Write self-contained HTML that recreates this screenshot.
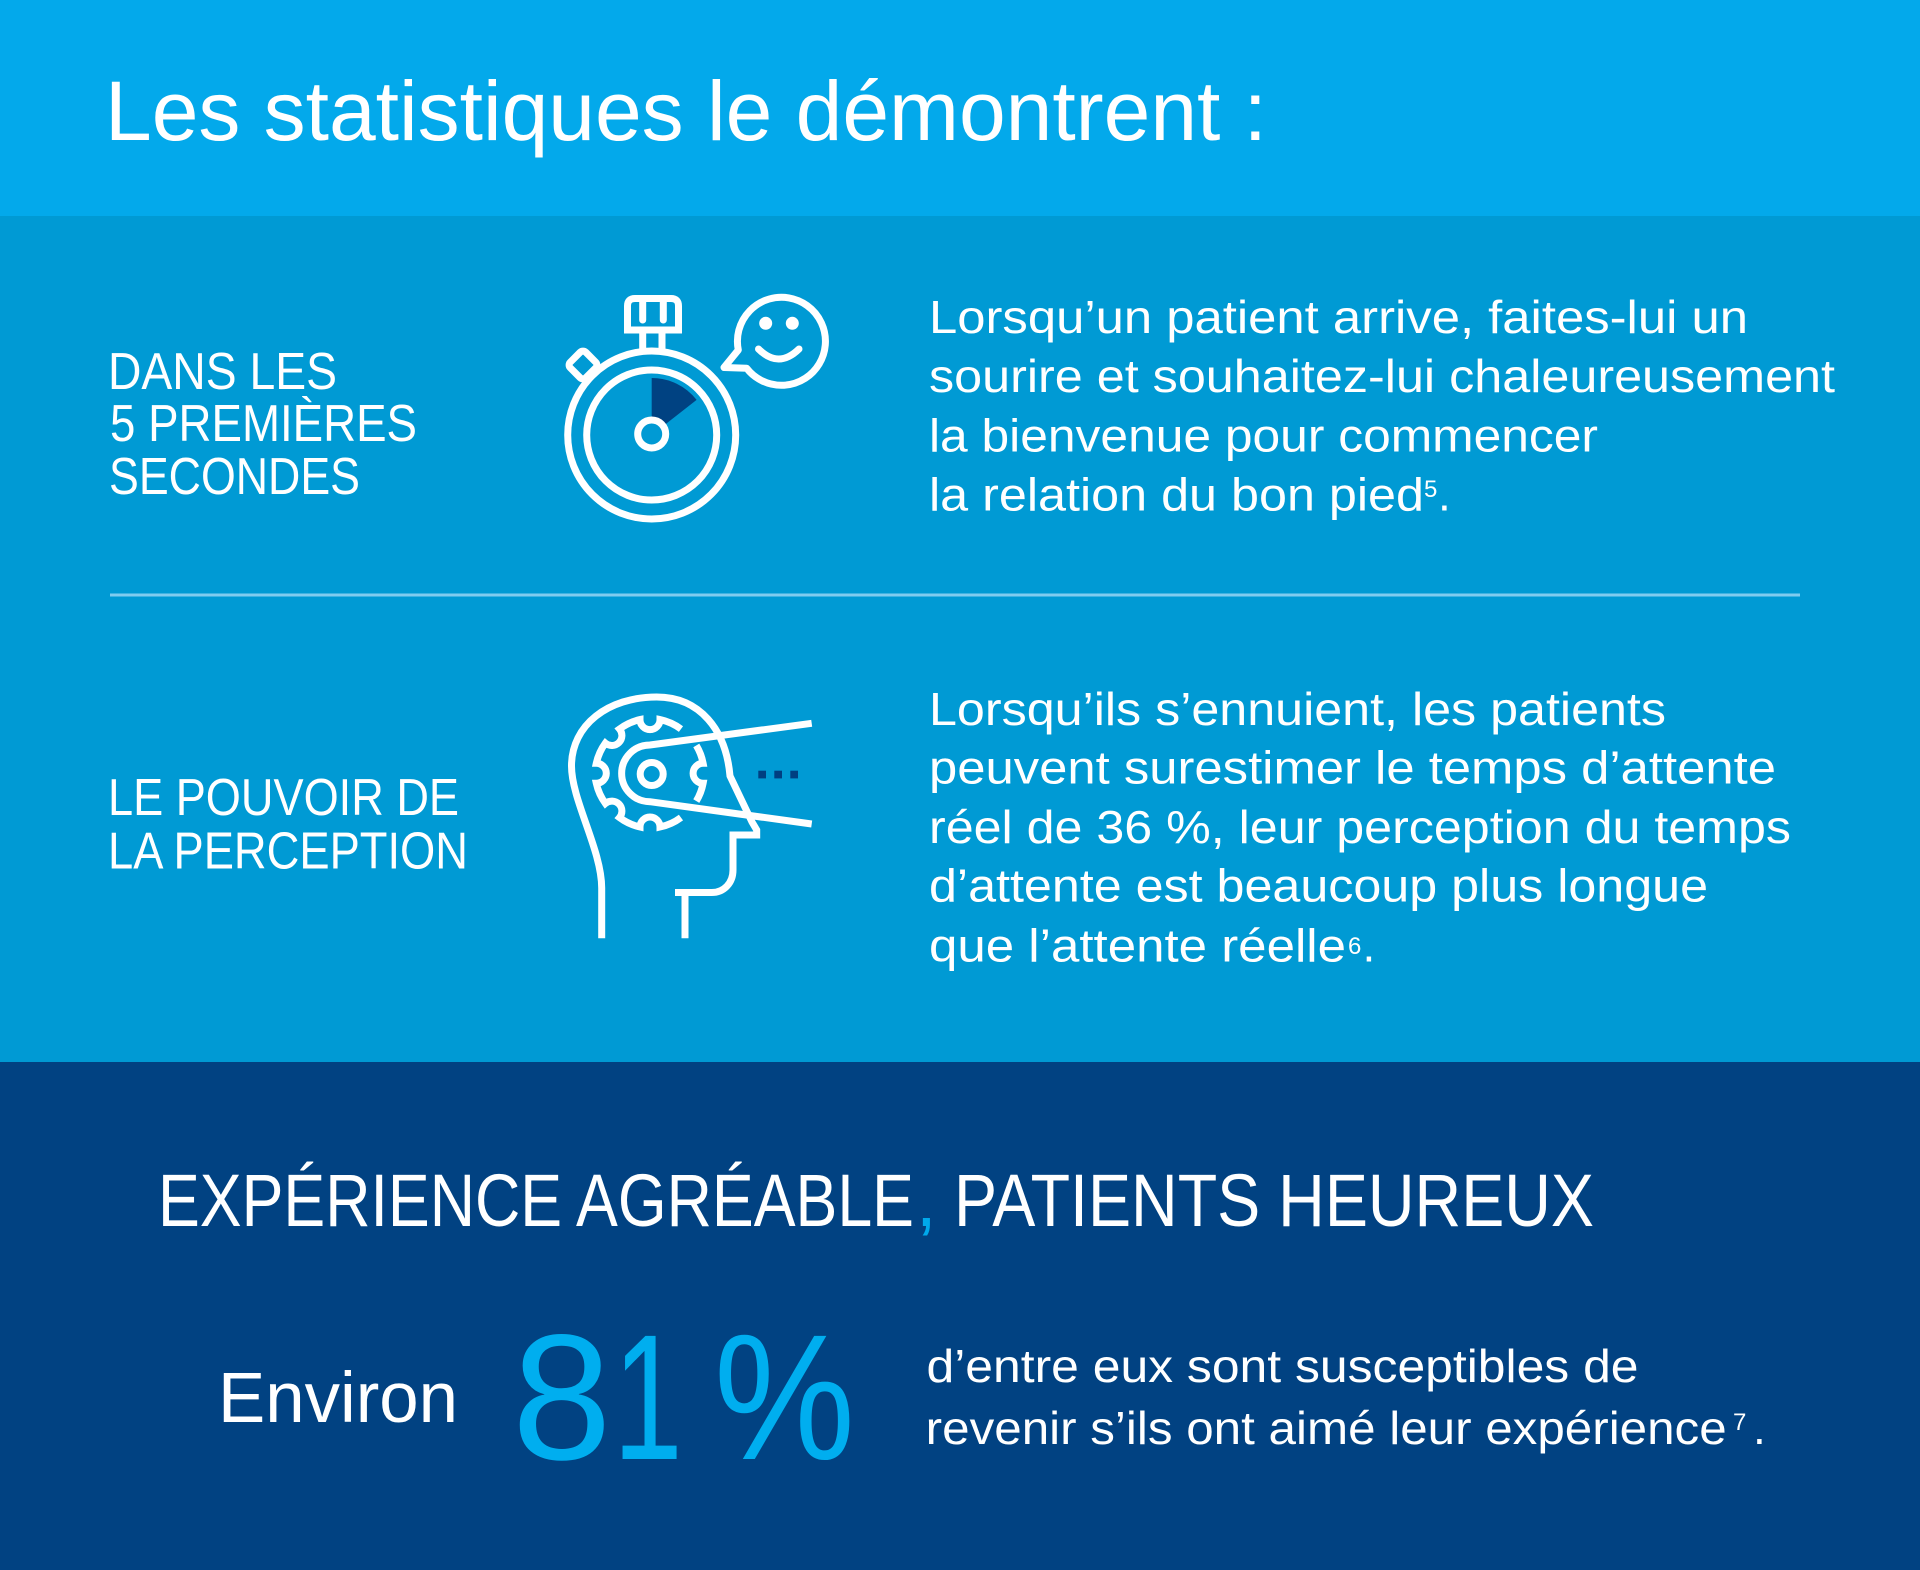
<!DOCTYPE html>
<html>
<head>
<meta charset="utf-8">
<style>
html,body{margin:0;padding:0;background:#014282;}
svg{display:block;}
text{font-family:"Liberation Sans", sans-serif;fill:#ffffff;}
</style>
</head>
<body>
<svg width="1920" height="1570" viewBox="0 0 1920 1570" xmlns="http://www.w3.org/2000/svg">
  <!-- bands -->
  <rect x="0" y="0" width="1920" height="216" fill="#03A9EB"/>
  <rect x="0" y="216" width="1920" height="846" fill="#009AD4"/>
  <rect x="0" y="1062" width="1920" height="508" fill="#014282"/>

  <!-- title -->
  <text x="105" y="140" font-size="84" textLength="1162" lengthAdjust="spacingAndGlyphs">Les statistiques le démontrent :</text>

  <!-- section 1 left -->
  <text x="108" y="389" font-size="52" textLength="229" lengthAdjust="spacingAndGlyphs">DANS LES</text>
  <text x="110" y="441" font-size="52" textLength="307" lengthAdjust="spacingAndGlyphs">5 PREMIÈRES</text>
  <text x="109" y="494" font-size="52" textLength="251" lengthAdjust="spacingAndGlyphs">SECONDES</text>

  <!-- section 1 paragraph -->
  <text x="929" y="333" font-size="46" textLength="819" lengthAdjust="spacingAndGlyphs">Lorsqu’un patient arrive, faites-lui un</text>
  <text x="929" y="392" font-size="46" textLength="906" lengthAdjust="spacingAndGlyphs">sourire et souhaitez-lui chaleureusement</text>
  <text x="929" y="451.5" font-size="46" textLength="669" lengthAdjust="spacingAndGlyphs">la bienvenue pour commencer</text>
  <text x="929" y="510.5" font-size="46" textLength="495" lengthAdjust="spacingAndGlyphs">la relation du bon pied</text>
  <text x="1424" y="497" font-size="24">5</text>
  <text x="1438" y="510.5" font-size="46">.</text>

  <!-- stopwatch icon -->
  <g fill="none" stroke="#ffffff" stroke-width="7">
    <rect x="-11" y="-11" width="22" height="22" rx="4" transform="translate(583,365) rotate(45)"/>
    <line x1="642.7" y1="328" x2="642.7" y2="356"/>
    <line x1="662" y1="328" x2="662" y2="356"/>
    <circle cx="651.7" cy="435" r="84" fill="#009AD4"/>
    <path d="M627.5,330 V306 Q627.5,298.5 635,298.5 H671 Q678.5,298.5 678.5,306 V330 Z"/>
    <line x1="642.7" y1="300" x2="642.7" y2="320" stroke-linecap="round"/>
    <line x1="663.3" y1="300" x2="663.3" y2="320" stroke-linecap="round"/>
    <circle cx="651.7" cy="435" r="65"/>
  </g>
  <path d="M651.7,435 L651.7,378 A57,57 0 0 1 696.6,399.9 Z" fill="#004282"/>
  <circle cx="651.7" cy="434" r="14" fill="#009AD4" stroke="#ffffff" stroke-width="7"/>
  <!-- speech bubble -->
  <path d="M738.3,350 L724,367.5 L746.7,368.3 A44,44 0 1 0 738.3,350 Z" fill="none" stroke="#ffffff" stroke-width="7" stroke-linejoin="round"/>
  <circle cx="765.7" cy="323.3" r="6.5" fill="#ffffff"/>
  <circle cx="792.3" cy="323.3" r="6.5" fill="#ffffff"/>
  <path d="M758.5,349 Q778.5,369 799,349" fill="none" stroke="#ffffff" stroke-width="7" stroke-linecap="round"/>

  <!-- separator -->
  <rect x="110" y="593.5" width="1690" height="3" fill="#80CCEF"/>

  <!-- section 2 left -->
  <text x="108" y="815" font-size="52" textLength="351" lengthAdjust="spacingAndGlyphs">LE POUVOIR DE</text>
  <text x="108" y="868.5" font-size="52" textLength="360" lengthAdjust="spacingAndGlyphs">LA PERCEPTION</text>

  <!-- head icon -->
  <g fill="none" stroke="#ffffff" stroke-width="7">
    <path d="M601.7,938.3 L601.7,888 C601.7,850 571.5,800 571.5,766 C571.5,725 608,697 656.7,697 C700,697 726,730 730,776 L752,822 L756.7,830 L756.7,835 L733,835 L733,870 C733,883 724,892.5 711.7,892.5 L675,892.5"/>
    <path d="M685,892.5 V938.3"/>
    <path d="M811.7,723.3 L650,745 A28.35,28.35 0 0 0 650,801.7 L811.7,824"/>
    <circle cx="651.7" cy="774" r="11.5"/>
    <path d="M680.97,729.06 A54,54 0 0 0 660,719.6 A10,10 0 0 1 640,719.6 A54,54 0 0 0 619.5,729 A10,10 0 0 1 605.4,743.1 A54,54 0 0 0 596.3,763.3 A10,10 0 0 1 596.3,783.3 A54,54 0 0 0 605.4,803.5 A10,10 0 0 1 619.5,817.6 A54,54 0 0 0 640,827 A10,10 0 0 1 660,827 A54,54 0 0 0 680.97,817.54"/>
    <path d="M696.29,801.11 A54,54 0 0 0 703.1,783.3 A10,10 0 0 1 703.1,763.3 A54,54 0 0 0 696.29,745.49"/>
  </g>
  <rect x="758.3" y="770.7" width="7.7" height="7.7" fill="#003F81"/>
  <rect x="774.3" y="770.7" width="7.7" height="7.7" fill="#003F81"/>
  <rect x="790.3" y="770.7" width="7.7" height="7.7" fill="#003F81"/>

  <!-- section 2 paragraph -->
  <text x="929" y="725" font-size="46" textLength="737" lengthAdjust="spacingAndGlyphs">Lorsqu’ils s’ennuient, les patients</text>
  <text x="929" y="783.5" font-size="46" textLength="847" lengthAdjust="spacingAndGlyphs">peuvent surestimer le temps d’attente</text>
  <text x="929" y="843" font-size="46" textLength="862" lengthAdjust="spacingAndGlyphs">réel de 36 %, leur perception du temps</text>
  <text x="929" y="901.5" font-size="46" textLength="779" lengthAdjust="spacingAndGlyphs">d’attente est beaucoup plus longue</text>
  <text x="929" y="961.5" font-size="46" textLength="417" lengthAdjust="spacingAndGlyphs">que l’attente réelle</text>
  <text x="1348" y="954" font-size="24">6</text>
  <text x="1362.5" y="961.5" font-size="46">.</text>

  <!-- bottom heading -->
  <text x="158" y="1226" font-size="74" textLength="756" lengthAdjust="spacingAndGlyphs">EXPÉRIENCE AGRÉABLE</text>
  <text x="916" y="1226" font-size="74" style="fill:#00A9EC">,</text>
  <text x="954" y="1226" font-size="74" textLength="640" lengthAdjust="spacingAndGlyphs">PATIENTS HEUREUX</text>

  <!-- Environ 81 % -->
  <text x="218" y="1422" font-size="71" textLength="240" lengthAdjust="spacingAndGlyphs">Environ</text>
  <text x="512" y="1459" font-size="179" style="fill:#00AEEF">8</text>
  <text x="0" y="0" font-size="179" transform="translate(613,1459) scale(0.7,1)" style="fill:#00AEEF">1</text>
  <text x="714" y="1459" font-size="179" textLength="141" lengthAdjust="spacingAndGlyphs" style="fill:#00AEEF">%</text>

  <!-- bottom paragraph -->
  <text x="926.5" y="1382" font-size="46" textLength="712" lengthAdjust="spacingAndGlyphs">d’entre eux sont susceptibles de</text>
  <text x="925.7" y="1444" font-size="46" textLength="801" lengthAdjust="spacingAndGlyphs">revenir s’ils ont aimé leur expérience</text>
  <text x="1733" y="1430" font-size="24">7</text>
  <text x="1753" y="1444" font-size="46">.</text>
</svg>
</body>
</html>
